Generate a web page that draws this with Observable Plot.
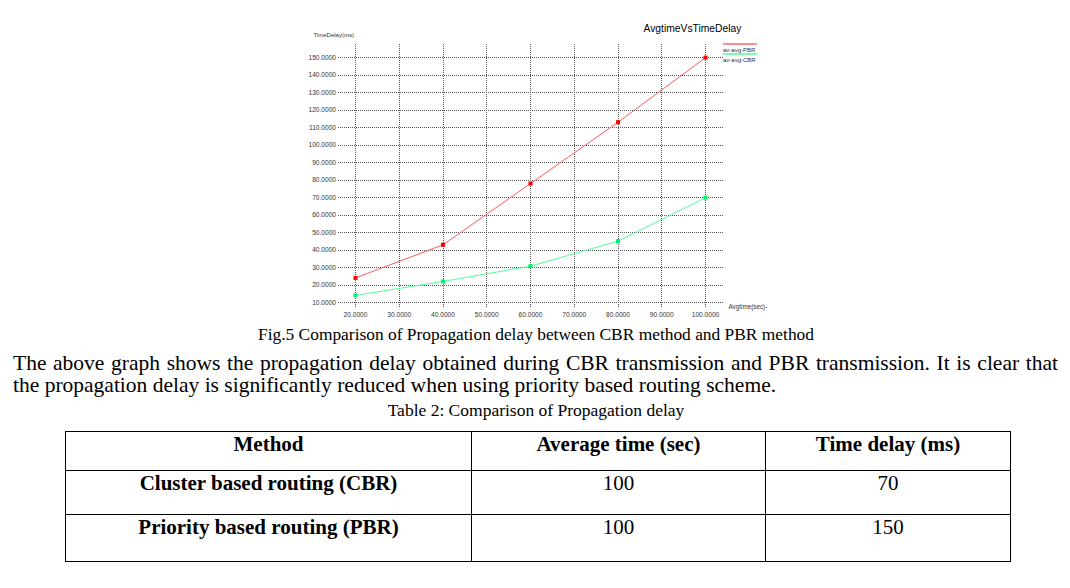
<!DOCTYPE html>
<html><head><meta charset="utf-8">
<script src="https://cdn.jsdelivr.net/npm/d3@7"></script>
<script src="https://cdn.jsdelivr.net/npm/@observablehq/plot@0.6"></script>
<style>
html,body{margin:0;padding:0;background:#fff;}
body{width:1070px;height:588px;position:relative;overflow:hidden;font-family:"Liberation Serif","Times New Roman",serif;color:#000;}
#chart{position:absolute;left:0;top:0;}
.lg{position:absolute;left:723px;width:34px;font-family:"Liberation Sans",Arial,sans-serif;font-size:6px;line-height:6px;color:#333;white-space:nowrap;}
.lg .ln{height:2px;width:34px;margin-bottom:2px;}
.abs{position:absolute;white-space:nowrap;}
#caption{left:0;width:1072px;text-align:center;top:326px;font-size:17.4px;line-height:17px;}
#p1{left:13px;top:352px;font-size:21.5px;line-height:22px;}
#p2{left:13px;top:374px;font-size:21.5px;line-height:22px;}
#ttitle{left:0;width:1072px;text-align:center;top:402px;font-size:17.5px;line-height:17px;}
table{position:absolute;left:65px;top:431px;border-collapse:collapse;font-size:21px;line-height:22px;}
td{border:1.5px solid #000;vertical-align:top;text-align:center;padding:1px 0 0 0;}
td.b{font-weight:bold;}
</style>
</head><body>
<div id="chart"></div>
<div class="lg" style="top:43px"><div class="ln" style="background:#ff8a8a"></div>av-avg-PBR</div>
<div class="lg" style="top:53px"><div class="ln" style="background:#7dffb0"></div>av-avg-CBR</div>
<div class="abs" id="caption"></div>
<div class="abs" id="p1"></div>
<div class="abs" id="p2"></div>
<div class="abs" id="ttitle"></div>
<table id="tbl"></table>
<script>
// ---- chart data ----
const avgTime = [20, 40, 60, 80, 100];
const pbrDelay = [24.2, 43.1, 78.1, 113.1, 150];
const cbrDelay = [14.2, 22.2, 30.9, 45.2, 70];
const xTicks = [20, 30, 40, 50, 60, 70, 80, 90, 100];
const yTicks = [10, 20, 30, 40, 50, 60, 70, 80, 90, 100, 110, 120, 130, 140, 150];
const chartTitle = "AvgtimeVsTimeDelay";
const xTitle = "Avgtime(sec)-";
const yTitle = "TimeDelay(ms)";

// ---- page text ----
const captionText = "Fig.5 Comparison of Propagation delay between CBR method and PBR method";
const paraLine1 = "The above graph shows the propagation delay obtained during CBR transmission and PBR transmission. It is clear that";
const paraLine2 = "the propagation delay is significantly reduced when using priority based routing scheme.";
const tableTitle = "Table 2: Comparison of Propagation delay";
const tableHeader = ["Method", "Average time (sec)", "Time delay (ms)"];
const tableMethods = ["Cluster based routing (CBR)", "Priority based routing (PBR)"];
const tableAvgTime = [100, 100];
const tableDelay = [70, 150];

const pbr = avgTime.map((x, i) => ({x, y: pbrDelay[i]}));
const cbr = avgTime.map((x, i) => ({x, y: cbrDelay[i]}));

const RED = "#ff0000", REDLINE = "#ff5a5a";
const GREEN = "#00f070", GREENLINE = "#50ff96";
const fmt = d => d.toFixed(4);

const chart = Plot.plot({
  width: 1070,
  height: 325,
  marginLeft: 337.5,
  marginRight: 347.5,
  marginTop: 44,
  marginBottom: 18,
  style: {fontFamily: "'Liberation Sans', Arial, sans-serif", fontSize: "6.6px", color: "#333", background: "transparent"},
  x: {domain: [16, 104]},
  y: {domain: [7.3, 157.5]},
  marks: [
    Plot.gridY(yTicks, {stroke: "#555", strokeOpacity: 1, strokeDasharray: "1,1", shapeRendering: "crispEdges"}),
    Plot.gridX(xTicks, {stroke: "#555", strokeOpacity: 1, strokeDasharray: "1,1", shapeRendering: "crispEdges"}),
    Plot.axisY(yTicks, {tickSize: 0, tickPadding: 2, tickFormat: fmt, label: null}),
    Plot.axisX(xTicks, {tickSize: 0, tickPadding: 5, tickFormat: fmt, label: null}),
    Plot.line(pbr, {x: "x", y: "y", stroke: REDLINE, strokeWidth: 1}),
    Plot.line(cbr, {x: "x", y: "y", stroke: GREENLINE, strokeWidth: 1}),
    Plot.dot(pbr, {x: "x", y: "y", symbol: "square", r: 2.3, fill: RED, stroke: "none"}),
    Plot.dot(cbr, {x: "x", y: "y", symbol: "square", r: 2.3, fill: GREEN, stroke: "none"}),
    Plot.text([chartTitle], {frameAnchor: "top-left", dx: 305.5, dy: -16, textAnchor: "start", lineAnchor: "middle", fontSize: 10.3, fill: "#000"}),
    Plot.text([yTitle], {frameAnchor: "top-left", dx: -24.5, dy: -9, textAnchor: "start", lineAnchor: "middle", fontSize: 6, fill: "#333"}),
    Plot.text([xTitle], {frameAnchor: "bottom-right", dx: 5.5, dy: -0.5, textAnchor: "start", lineAnchor: "middle", fontSize: 6.3, fill: "#333"})
  ]
});
document.getElementById("chart").appendChild(chart);

document.getElementById("caption").textContent = captionText;
document.getElementById("p1").textContent = paraLine1;
document.getElementById("p2").textContent = paraLine2;
document.getElementById("ttitle").textContent = tableTitle;

// fit paragraph line widths
function fitWidth(el, target) {
  const w = el.getBoundingClientRect().width;
  const spaces = (el.textContent.match(/ /g) || []).length;
  el.style.wordSpacing = ((target - w) / spaces) + "px";
}
fitWidth(document.getElementById("p1"), 1045);

// table
const tbl = document.getElementById("tbl");
const widths = [405, 293, 244];
const heights = [39, 44, 46.5];
const rows = [tableHeader, ...tableMethods.map((m, i) => [m, String(tableAvgTime[i]), String(tableDelay[i])])];
rows.forEach((r, ri) => {
  const tr = document.createElement("tr");
  tr.style.height = heights[ri] + "px";
  r.forEach((c, ci) => {
    const td = document.createElement("td");
    td.textContent = c;
    td.style.width = widths[ci] + "px";
    if (ri === 0 || ci === 0) td.className = "b";
    tr.appendChild(td);
  });
  tbl.appendChild(tr);
});
</script>
</body></html>
